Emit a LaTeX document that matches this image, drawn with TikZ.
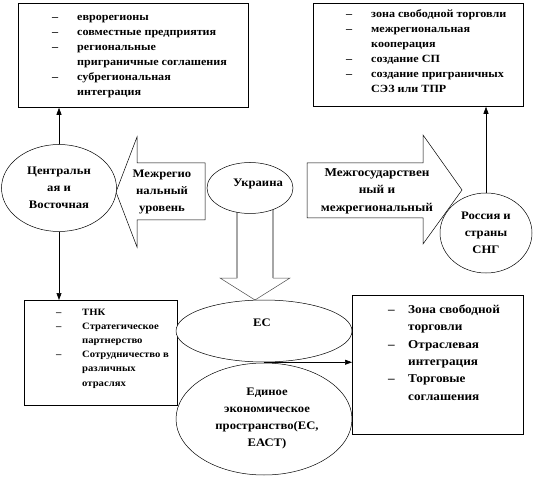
\documentclass[tikz,border=0pt]{standalone}
\usepackage{fontspec}
\setmainfont{Liberation Serif}[FakeStretch=1.1]
\usetikzlibrary{shapes.geometric,arrows.meta}
\tikzset{
  box/.style={draw,line width=0.8pt,fill=white},
  oval/.style={draw,ellipse,line width=0.5pt,fill=white,inner sep=0pt,align=center,font=\bfseries\fontsize{11.5}{17}\selectfont},
  lbl/.style={inner sep=0pt,align=center,font=\bfseries\fontsize{11.5}{17}\selectfont},
  lst/.style={inner sep=0pt,anchor=north west,font=\bfseries\fontsize{11}{15}\selectfont},
  blockarrow/.style={draw,line width=0.5pt,fill=white},
  conn/.style={line width=0.6pt,-{Triangle[length=7pt,width=5pt]}},
}
\begin{document}
\begin{tikzpicture}[x=1pt,y=-1pt]
\useasboundingbox (0,0) rectangle (535,478);
% boxes
\node[box,minimum width=230pt,minimum height=104pt,anchor=north west] (tl) at (18,3) {};
\node[box,minimum width=210pt,minimum height=103pt,anchor=north west] (tr) at (313,3) {};
\node[box,minimum width=153pt,minimum height=105pt,anchor=north west] (bl) at (24,300) {};
\node[box,minimum width=171pt,minimum height=139pt,anchor=north west] (br) at (352,295) {};
% list texts
\node[lst] (tlt) at (52,10) {\begin{tabular}{@{}p{25pt}@{}l@{}}
–&еврорегионы\\
–&совместные предприятия\\
–&региональные\\
&приграничные соглашения\\
–&субрегиональная\\
&интеграция
\end{tabular}};
\node[lst] (trt) at (346,7) {\begin{tabular}{@{}p{25pt}@{}l@{}}
–&зона свободной торговли\\
–&межрегиональная\\
&кооперация\\
–&создание СП\\
–&создание приграничных\\
&СЭЗ или ТПР
\end{tabular}};
\node[lst,font=\bfseries\fontsize{9.7}{14.2}\selectfont] (blt) at (56,305) {\begin{tabular}{@{}p{26pt}@{}l@{}}
–&ТНК\\
–&Стратегическое\\
&партнерство\\
–&Сотрудничество в\\
&различных\\
&отраслях
\end{tabular}};
\node[lst,font=\bfseries\fontsize{12}{17.4}\selectfont] (brt) at (388,301) {\begin{tabular}{@{}p{20pt}@{}l@{}}
–&Зона свободной\\
&торговли\\
–&Отраслевая\\
&интеграция\\
–&Торговые\\
&соглашения
\end{tabular}};
% block arrows
\draw[blockarrow] (116,192) -- (137,137) -- (137,163) -- (205,163) -- (205,220) -- (137,220) -- (137,247) -- cycle;
\draw[blockarrow] (307,163) -- (423,163) -- (423,135) -- (462,190) -- (423,244) -- (423,218) -- (307,218) -- cycle;
\draw[blockarrow,draw=gray!60!black] (237,205) -- (237,278) -- (220,278) -- (255,300) -- (290,278) -- (273,278) -- (273,205) -- cycle;
\draw[line width=1.2pt,gray!70] (237,205) -- (237,278) (273,205) -- (273,278);
\node[lbl] (lat) at (162,192) {Межрегио\\нальный\\уровень};
\node[lbl,font=\bfseries\fontsize{12}{17.5}\selectfont] (rat) at (377,191) {Межгосударствен\\ный и\\межрегиональный};
% ellipses
\node[oval,minimum width=115pt,minimum height=87pt] (cv) at (59,188) {Центральн\\ая и\\Восточная};
\node[oval,minimum width=86pt,minimum height=51pt] (ua) at (250,188) {};
\node[lbl] (uat) at (258,184) {Украина};
\node[oval,minimum width=92pt,minimum height=80pt] (ru) at (486,233) {Россия и\\страны\\СНГ};
\node[oval,minimum width=176pt,minimum height=62pt] (ec) at (264,331) {};
\node[lbl] (ect) at (262,323) {ЕС};
\node[oval,minimum width=176pt,minimum height=112pt] (eep) at (264,419) {};
\node[lbl] (eept) at (267,418) {Единое\\экономическое\\пространство(ЕС,\\ЕАСТ)};
% connectors
\draw[conn] (cv.north) -- (cv.north |- tl.south);
\draw[conn] (cv.south) -- (cv.south |- bl.north);
\draw[conn] (ru.north) -- (ru.north |- tr.south);
\draw[conn] (ec.south) -- (ec.south -| br.west);
\end{tikzpicture}
\end{document}
